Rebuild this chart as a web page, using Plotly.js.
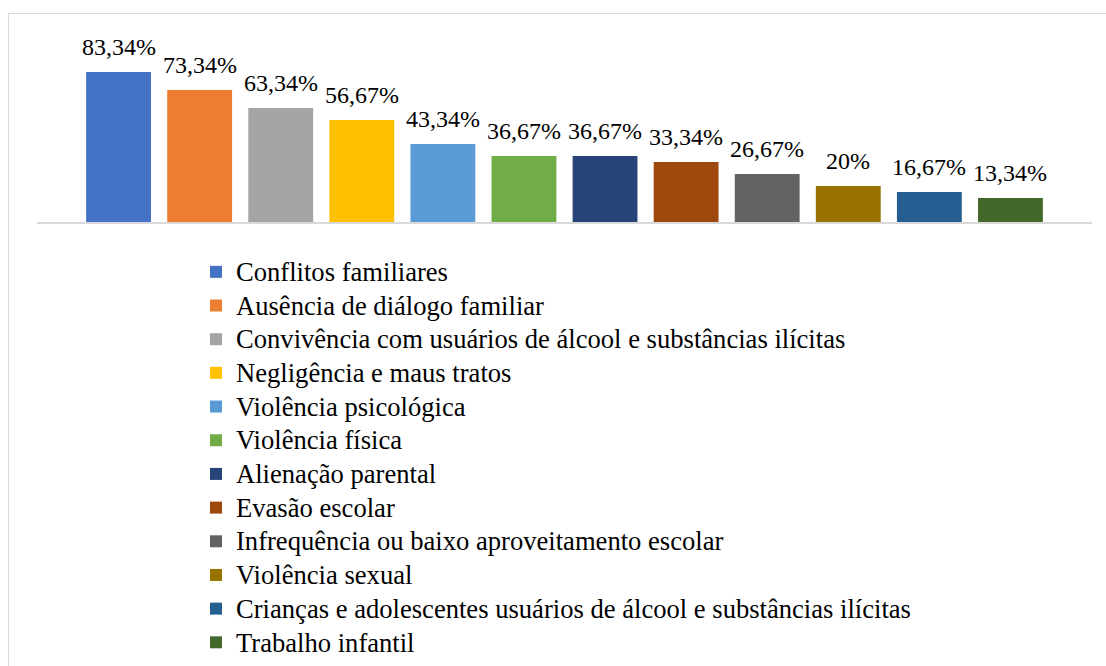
<!DOCTYPE html>
<html>
<head>
<meta charset="utf-8">
<script src="https://cdn.plot.ly/plotly-3.0.1.min.js"></script>
<style>
html,body{margin:0;padding:0;background:#fff;}
#wrap{position:relative;width:1106px;height:666px;overflow:hidden;}
#chart{width:1106px;height:666px;}
#frame{position:absolute;left:8px;top:13px;width:1200px;height:800px;border:1px solid #d9d9d9;pointer-events:none;}
</style>
</head>
<body>
<div id="wrap"><div id="chart"></div><div id="frame"></div></div>
<script>
const categories = [
  "Conflitos familiares",
  "Ausência de diálogo familiar",
  "Convivência com usuários de álcool e substâncias ilícitas",
  "Negligência e maus tratos",
  "Violência psicológica",
  "Violência física",
  "Alienação parental",
  "Evasão escolar",
  "Infrequência ou baixo aproveitamento escolar",
  "Violência sexual",
  "Crianças e adolescentes usuários de álcool e substâncias ilícitas",
  "Trabalho infantil"
];
const values = [83.34, 73.34, 63.34, 56.67, 43.34, 36.67, 36.67, 33.34, 26.67, 20, 16.67, 13.34];
const labels = ["83,34%","73,34%","63,34%","56,67%","43,34%","36,67%","36,67%","33,34%","26,67%","20%","16,67%","13,34%"];
const colors = ["#4472C4","#ED7D31","#A5A5A5","#FFC000","#5B9BD5","#70AD47","#264478","#9E480E","#636363","#997300","#255E91","#43682B"];

const FONT = "Liberation Serif";

const traces = categories.map((c, i) => ({
  type: "bar",
  name: '<span style="font-size:26.6px">' + c + '</span>',
  x: [c],
  y: [values[i]],
  width: 0.8,
  marker: {color: colors[i], line: {width: 0}},
  hoverinfo: "y",
  showlegend: true
}));

const annotations = categories.map((c, i) => ({
  x: c, y: values[i], xref: "x", yref: "y",
  text: labels[i], showarrow: false,
  yanchor: "bottom", yshift: 10,
  font: {family: FONT, size: 24, color: "#000"}
}));

const layout = {
  width: 1106, height: 666,
  margin: {l: 37, r: 14, t: 42, b: 444, autoexpand: false},
  paper_bgcolor: "#fff", plot_bgcolor: "#fff",
  barmode: "overlay",
  showlegend: true,
  font: {family: FONT, size: 24, color: "#000"},
  xaxis: {
    type: "category",
    categoryarray: categories,
    range: [-1.006, 12.006],
    showticklabels: false, ticks: "",
    showgrid: false, zeroline: false,
    showline: true, linecolor: "#d9d9d9", linewidth: 2
  },
  yaxis: {
    range: [0, 100],
    visible: false, showgrid: false, zeroline: false
  },
  legend: {
    xref: "container", yref: "container",
    x: 196/1106, y: 1 - 250/666,
    xanchor: "left", yanchor: "top",
    orientation: "v",
    maxheight: 600,
    font: {family: FONT, size: 23.6, color: "#000"},
    bgcolor: "rgba(0,0,0,0)",
    traceorder: "normal",
    tracegroupgap: 0
  },
  annotations: annotations
};

Plotly.newPlot("chart", traces, layout, {displayModeBar: false, staticPlot: true});
</script>
</body>
</html>
